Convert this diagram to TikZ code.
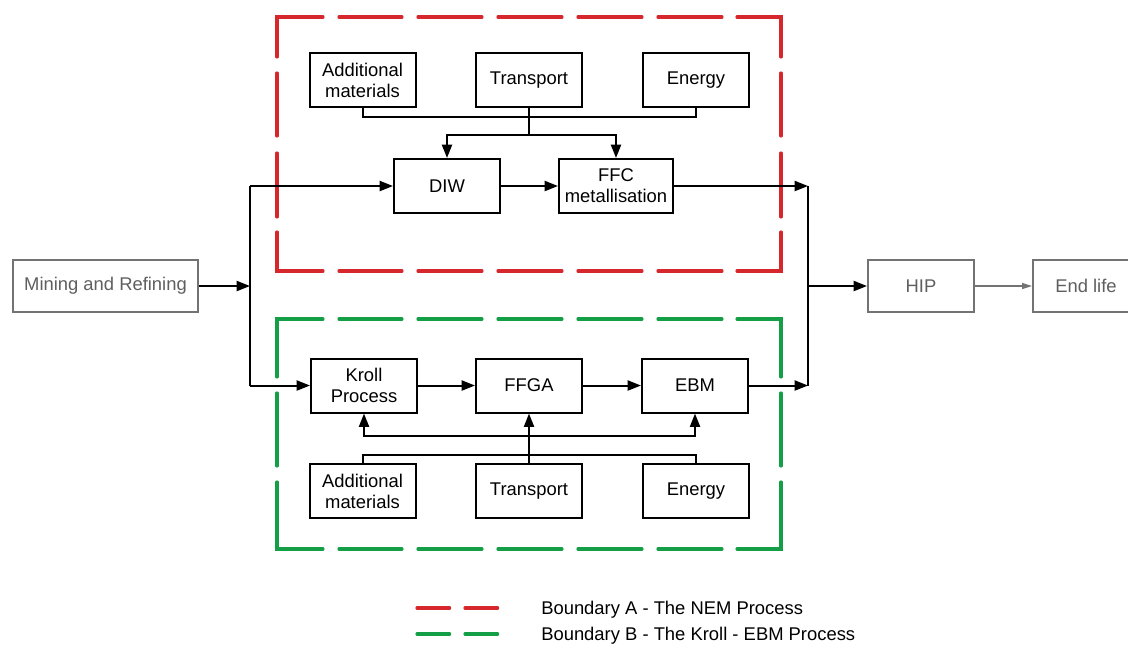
\documentclass[tikz,border=0pt]{standalone}
\usepackage{fontspec}
\setmainfont{Liberation Sans}
\usetikzlibrary{arrows.meta}
\definecolor{bred}{RGB}{214,39,45}
\definecolor{bgreen}{RGB}{20,158,70}
\definecolor{gbox}{RGB}{115,115,115}
\definecolor{gtext}{RGB}{95,95,95}
\begin{document}
\begin{tikzpicture}[x=0.75pt,y=-0.75pt,
  every node/.style={font=\fontsize{13.8}{15.8}\selectfont},
  box/.style={draw,line width=1.5pt,minimum width=79.5pt,minimum height=40.5pt,align=center,inner sep=0pt},
  gbx/.style={box,draw=gbox,text=gtext},
  conn/.style={line width=1.5pt},
  arr/.style={conn,-{Triangle[length=10pt,width=7.5pt]}},
  garr/.style={line width=1.1pt,draw=gbox,-{Triangle[length=7.5pt,width=4.5pt]},color=gbox},
  bseg/.style={line width=2.3pt,line cap=round,line join=miter},
  legdash/.style={line width=2.3pt,line cap=round,dash pattern=on 24.5pt off 11.5pt}
]
\useasboundingbox (0,0) rectangle (1128,644);
\fill[white] (0,0) rectangle (1128,644);

% boundary A (red)
\begin{scope}[bseg,bred]
  \draw (323,17) -- (277,17) -- (277,57);
  \draw (737,17) -- (781,17) -- (781,57);
  \draw (323,271) -- (277,271) -- (277,232);
  \draw (737,271) -- (781,271) -- (781,232);
  \foreach \a/\b in {339/402,418/482,498/562,578/642,658/722} {
    \draw (\a,17) -- (\b,17);
    \draw (\a,271) -- (\b,271);
  }
  \foreach \a/\b in {73/136,153/217} {
    \draw (277,\a) -- (277,\b);
    \draw (781,\a) -- (781,\b);
  }
\end{scope}
% boundary B (green)
\begin{scope}[bseg,bgreen]
  \draw (323,319) -- (277,319) -- (277,377);
  \draw (737,319) -- (781,319) -- (781,377);
  \draw (323,549) -- (277,549) -- (277,482);
  \draw (737,549) -- (781,549) -- (781,482);
  \foreach \a/\b in {339/402,418/482,498/562,578/642,658/722} {
    \draw (\a,319) -- (\b,319);
    \draw (\a,549) -- (\b,549);
  }
  \draw (277,393) -- (277,466);
  \draw (781,393) -- (781,466);
\end{scope}

% nodes
\node[gbx,minimum width=138.75pt,minimum height=39pt] (mine) at (105.5,286) {Mining and Refining};
\node[gbx,minimum height=39pt] (hip) at (921,286) {HIP};
\node[gbx,minimum height=39pt] (end) at (1086,286) {End life};

\node[box] (addA) at (362.5,80) {Additional\\materials};
\node[box] (transA) at (529,80) {Transport};
\node[box] (enA) at (696,80) {Energy};
\node[box] (diw) at (447,186) {DIW};
\node[box,minimum width=85.5pt] (ffc) at (616,186) {FFC\\metallisation};

\node[box] (kroll) at (364,385.5) {Kroll\\Process};
\node[box] (ffga) at (529,385.5) {FFGA};
\node[box] (ebm) at (695,385.5) {EBM};
\node[box] (addB) at (362.5,491) {Additional\\materials};
\node[box] (transB) at (529,491) {Transport};
\node[box] (enB) at (696,491) {Energy};

% coordinates
\coordinate (jl) at (250,286);
\coordinate (jlt) at (250,186);
\coordinate (jlb) at (250,385.5);
\coordinate (jr) at (808,286);
\coordinate (jrt) at (808,186);
\coordinate (jrb) at (808,385.5);
\coordinate (busA) at (529,117);
\coordinate (tA2) at (529,135);
\coordinate (busB) at (529,455);
\coordinate (tB2) at (529,436);

% main flow
\draw[arr] (mine.east) -- (jl);
\draw[conn] (jlt) -- (jlb);
\draw[arr] (jlt) -- (diw.west);
\draw[arr] (jlb) -- (kroll.west);
\draw[arr] (diw) -- (ffc);
\draw[arr] (kroll) -- (ffga);
\draw[arr] (ffga) -- (ebm);
\draw[arr] (ffc.east) -- (jrt);
\draw[arr] (ebm.east) -- (jrb);
\draw[conn] (jrt) -- (jrb);
\draw[arr] (jr) -- (hip.west);
\draw[garr] (hip.east) -- (end.west);

% top inputs
\draw[conn] (addA.south) |- (busA) -| (enA.south);
\draw[conn] (transA.south) -- (tA2);
\draw[arr] (tA2) -| (diw.north);
\draw[arr] (tA2) -| (ffc.north);

% bottom inputs
\draw[conn] (addB.north) |- (busB) -| (enB.north);
\draw[arr] (transB.north) -- (ffga.south);
\draw[arr] (tB2) -| (kroll.south);
\draw[arr] (tB2) -| (ebm.south);

% legend
\coordinate (lra) at (417,608); \coordinate (lrb) at (498,608);
\coordinate (lga) at (417,634); \coordinate (lgb) at (498,634);
\draw[legdash,bred] (lra) -- (lrb);
\draw[legdash,bgreen] (lga) -- (lgb);
\node[anchor=west,inner sep=0pt] (legA) at (541,609.5) {Boundary A - The NEM Process};
\node[anchor=west,inner sep=0pt] (legB) at (541,635.5) {Boundary B - The Kroll - EBM Process};
\end{tikzpicture}
\end{document}
